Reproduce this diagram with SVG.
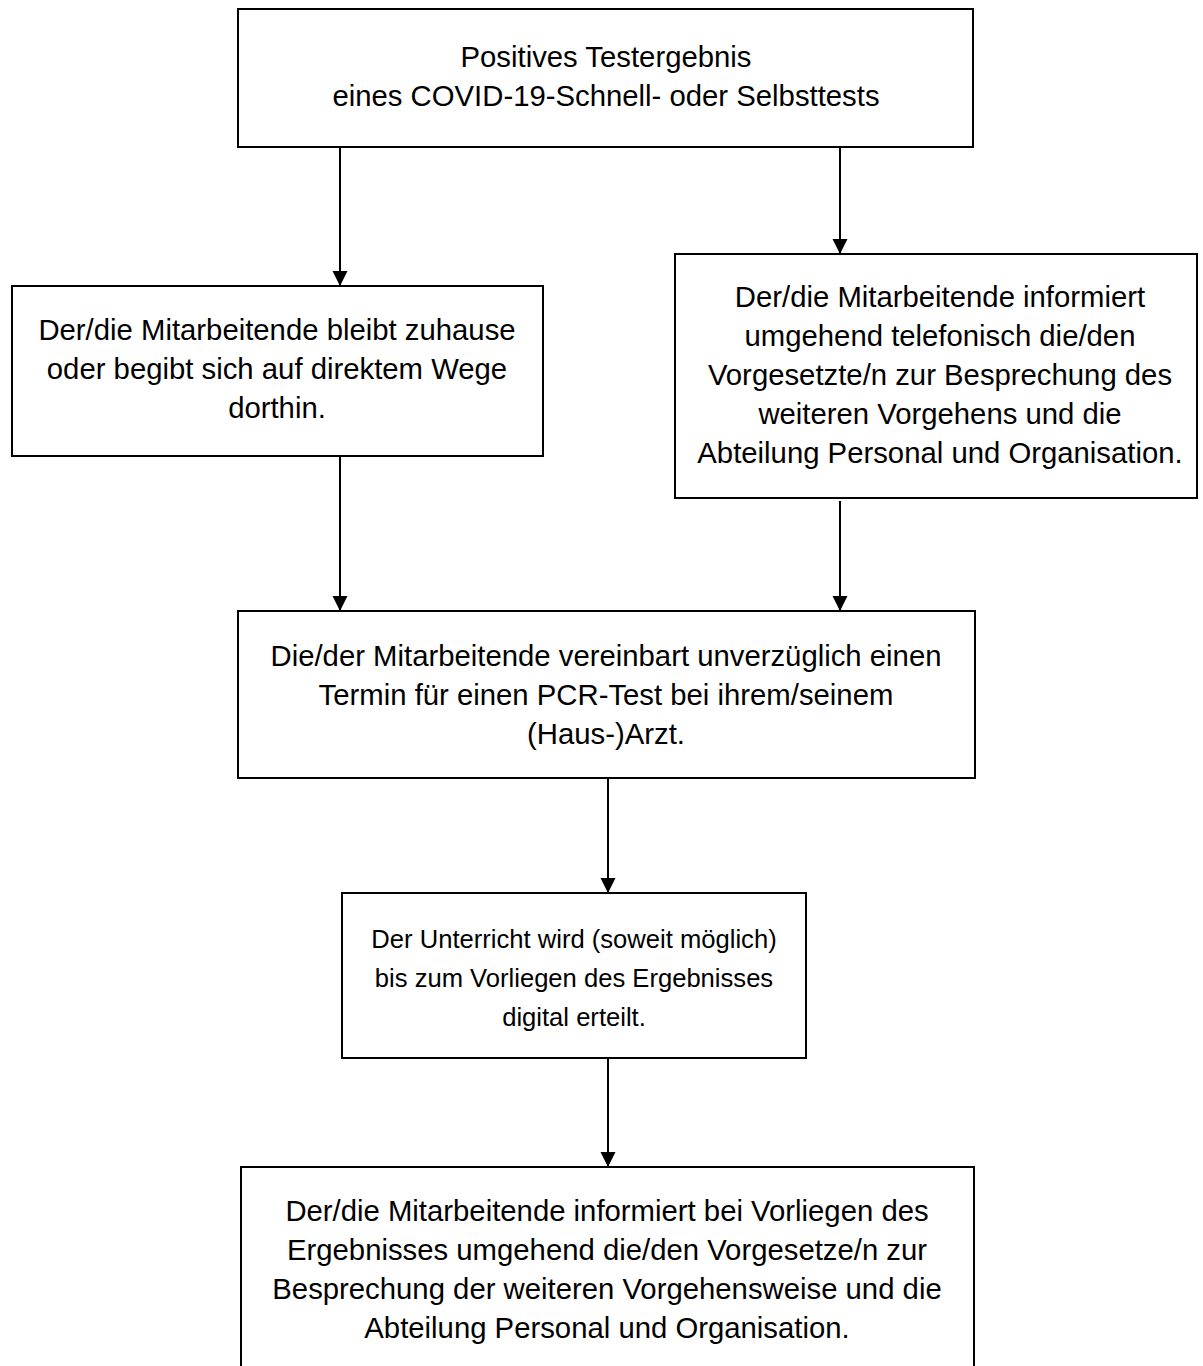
<svg xmlns="http://www.w3.org/2000/svg" width="1203" height="1366" viewBox="0 0 1203 1366">
<style>
.box{fill:#fff;stroke:#000;stroke-width:2}
.t{font-family:"Liberation Sans",Arial,sans-serif;font-size:29.3px;fill:#000;text-anchor:middle}
.s{font-size:25.6px}
.c{stroke:#000;stroke-width:2;fill:none;marker-end:url(#ah)}
</style>
<defs>
<marker id="ah" markerUnits="userSpaceOnUse" markerWidth="15" markerHeight="16" refX="15" refY="7.5" orient="auto">
<path d="M0,0 L15,7.5 L0,15 z" fill="#000"/>
</marker>
</defs>
<rect width="1203" height="1366" fill="#fff"/>
<g id="connectors">
<line class="c" x1="340" y1="147" x2="340" y2="286"/>
<line class="c" x1="840" y1="147" x2="840" y2="254"/>
<line class="c" x1="340" y1="456" x2="340" y2="611"/>
<line class="c" x1="840" y1="501" x2="840" y2="611"/>
<line class="c" x1="608" y1="778" x2="608" y2="893"/>
<line class="c" x1="608" y1="1058" x2="608" y2="1167"/>
</g>
<g id="n1">
<rect class="box" x="238" y="9" width="735" height="138"/>
<text class="t" x="606" y="67">Positives Testergebnis</text>
<text class="t" x="606" y="106">eines COVID-19-Schnell- oder Selbsttests</text>
</g>
<g id="n2">
<rect class="box" x="12" y="286" width="531" height="170"/>
<text class="t" x="277" y="340">Der/die Mitarbeitende bleibt zuhause</text>
<text class="t" x="277" y="379">oder begibt sich auf direktem Wege</text>
<text class="t" x="277" y="418">dorthin.</text>
</g>
<g id="n3">
<rect class="box" x="675" y="254" width="522" height="244"/>
<text class="t" x="940" y="307">Der/die Mitarbeitende informiert</text>
<text class="t" x="940" y="346">umgehend telefonisch die/den</text>
<text class="t" x="940" y="385">Vorgesetzte/n zur Besprechung des</text>
<text class="t" x="940" y="424">weiteren Vorgehens und die</text>
<text class="t" x="940" y="463">Abteilung Personal und Organisation.</text>
</g>
<g id="n4">
<rect class="box" x="238" y="611" width="737" height="167"/>
<text class="t" x="606" y="666">Die/der Mitarbeitende vereinbart unverzüglich einen</text>
<text class="t" x="606" y="705">Termin für einen PCR-Test bei ihrem/seinem</text>
<text class="t" x="606" y="744">(Haus-)Arzt.</text>
</g>
<g id="n5">
<rect class="box" x="342" y="893" width="464" height="165"/>
<text class="t s" x="574" y="948">Der Unterricht wird (soweit möglich)</text>
<text class="t s" x="574" y="987">bis zum Vorliegen des Ergebnisses</text>
<text class="t s" x="574" y="1026">digital erteilt.</text>
</g>
<g id="n6">
<rect class="box" x="241" y="1167" width="733" height="210"/>
<text class="t" x="607" y="1221">Der/die Mitarbeitende informiert bei Vorliegen des</text>
<text class="t" x="607" y="1260">Ergebnisses umgehend die/den Vorgesetze/n zur</text>
<text class="t" x="607" y="1299">Besprechung der weiteren Vorgehensweise und die</text>
<text class="t" x="607" y="1338">Abteilung Personal und Organisation.</text>
</g>
</svg>
